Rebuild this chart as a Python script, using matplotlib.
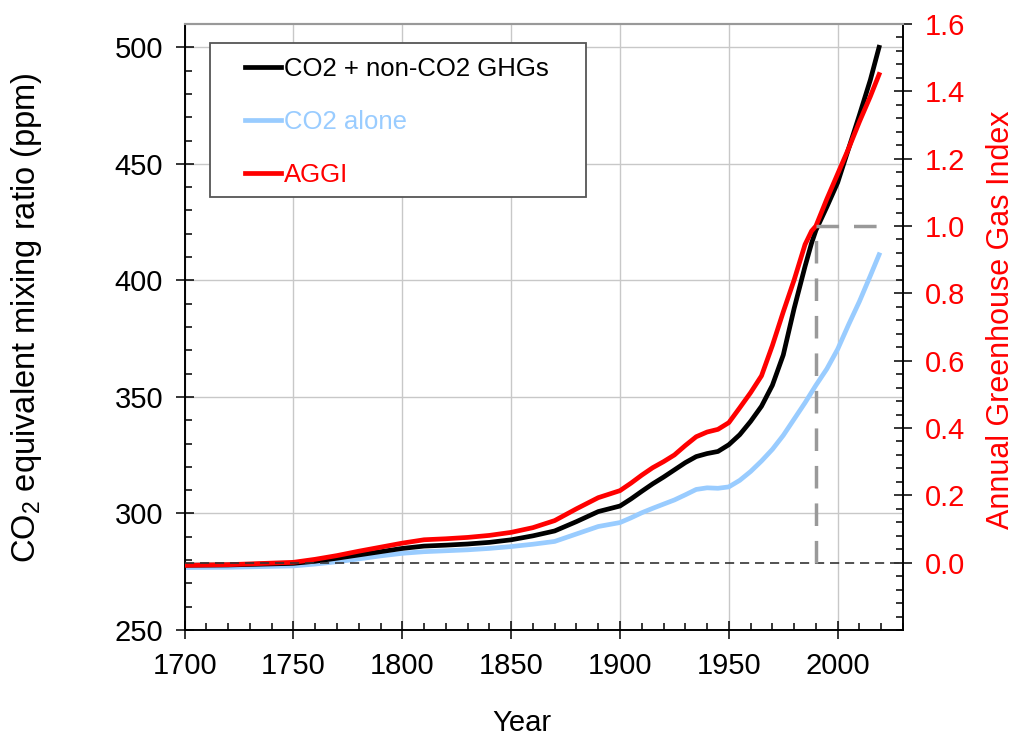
import numpy as np
import matplotlib.pyplot as plt
from matplotlib.patches import Rectangle
from matplotlib.ticker import MultipleLocator, FormatStrFormatter

plt.rcParams['font.family'] = ['Liberation Sans', 'DejaVu Sans']
plt.rcParams['mathtext.fontset'] = 'custom'
plt.rcParams['mathtext.rm'] = 'Liberation Sans'
plt.rcParams['mathtext.default'] = 'rm'

# years sampled along the curves
years = [1700, 1720, 1750, 1760, 1770, 1780, 1790, 1800, 1810, 1820, 1830, 1840,
         1850, 1860, 1870, 1880, 1890, 1900, 1905, 1910, 1915, 1920, 1925, 1930,
         1935, 1940, 1945, 1950, 1955, 1960, 1965, 1970, 1975, 1980, 1985, 1988,
         1990, 1995, 2000, 2005, 2010, 2015, 2019]

# CO2 + non-CO2 GHGs, CO2-equivalent (ppm)
co2eq = [277.8, 277.9, 278.6, 279.5, 280.8, 282.2, 283.6, 285.0, 286.0, 286.4, 286.9, 287.6,
         288.7, 290.4, 292.5, 296.5, 300.8, 303.2, 306.2, 309.5, 312.7, 315.6, 318.7, 321.8,
         324.4, 325.7, 326.6, 329.5, 333.8, 339.5, 346.0, 355.0, 368.0, 388.0, 406.0, 416.0,
         421.5, 431.5, 442.0, 456.5, 471.0, 486.0, 500.0]

# CO2 alone (ppm)
co2 = [276.8, 276.9, 277.5, 278.3, 279.3, 280.5, 281.8, 282.9, 283.6, 284.0, 284.4, 285.0,
       285.8, 286.8, 288.0, 291.2, 294.4, 296.1, 298.1, 300.3, 302.2, 304.0, 305.8, 308.0,
       310.3, 311.0, 310.8, 311.4, 314.2, 318.0, 322.5, 327.5, 333.5, 340.5, 347.5, 352.0,
       355.0, 362.0, 370.5, 381.0, 391.0, 402.0, 411.0]

# Annual Greenhouse Gas Index
aggi = [-0.008, -0.006, 0.001, 0.010, 0.021, 0.034, 0.046, 0.058, 0.068, 0.071, 0.075, 0.081,
        0.090, 0.104, 0.125, 0.160, 0.193, 0.214, 0.236, 0.260, 0.282, 0.300, 0.320, 0.348,
        0.374, 0.388, 0.396, 0.416, 0.460, 0.505, 0.555, 0.645, 0.745, 0.840, 0.945, 0.985,
        1.000, 1.080, 1.155, 1.230, 1.310, 1.385, 1.450]

ref_year = 1990
labels = ['CO2 + non-CO2 GHGs', 'CO2 alone', 'AGGI']
c_black = 'black'
c_blue = '#99ccff'
c_red = '#ff0000'

fig = plt.figure(figsize=(10.16, 7.37), dpi=100)
ax = fig.add_axes([184.6 / 1016, 1 - 630 / 737, (903 - 184.6) / 1016, (630 - 24) / 737])
ax2 = ax.twinx()

ax.set_xlim(1700, 2030)
ax.set_ylim(250, 510)
ax2.set_ylim(-0.2, 1.6)

ax.set_axisbelow(True)
ax.grid(True, color='#c8c8c8', linewidth=1.0)

l1, = ax.plot(years, co2eq, color=c_black, linewidth=3.4, label=labels[0], zorder=3)
l2, = ax.plot(years, co2, color=c_blue, linewidth=3.4, label=labels[1], zorder=2)
l3, = ax2.plot(years, aggi, color=c_red, linewidth=3.4, label=labels[2], zorder=3)

# reference lines
ax2.axhline(0.0, color='#333333', linewidth=1.2, linestyle=(0, (5.5, 3.5)), zorder=4)
ax2.plot([ref_year, ref_year], [0.0, 1.0], color='#999999', linewidth=2.5,
         linestyle=(0, (6.5, 4.3)), zorder=4)
ax2.plot([ref_year, 2020], [1.0, 1.0], color='#999999', linewidth=2.5,
         linestyle=(0, (6.5, 4.3)), zorder=4)

# ticks
ax.xaxis.set_major_locator(MultipleLocator(50))
ax.xaxis.set_minor_locator(MultipleLocator(10))
ax.yaxis.set_major_locator(MultipleLocator(50))
ax.yaxis.set_minor_locator(MultipleLocator(10))
ax2.yaxis.set_minor_locator(MultipleLocator(0.04))
ax2.set_yticks(np.arange(0, 1.61, 0.2))
ax2.yaxis.set_major_formatter(FormatStrFormatter('%.1f'))

ax.tick_params(which='major', direction='inout', length=13, width=1.1, labelsize=21, pad=9)
ax.tick_params(which='minor', direction='in', length=5, width=1.1)
ax.tick_params(axis='x', which='both', top=False)
ax.tick_params(axis='y', which='both', right=False)
ax2.tick_params(which='major', direction='inout', length=13, width=1.1, labelsize=21,
                pad=9, labelcolor=c_red)
ax2.tick_params(which='minor', direction='in', length=5, width=1.1)

for s in ['left', 'bottom', 'right']:
    ax.spines[s].set_linewidth(1.2)
    ax2.spines[s].set_linewidth(1.2)
ax.spines['top'].set_color('#999999')
ax2.spines['top'].set_color('#999999')
ax.spines['top'].set_linewidth(1.5)
ax2.spines['top'].set_linewidth(1.5)

ax.set_xlabel('Year', fontsize=21)
ax.xaxis.set_label_coords((522 - 184.6) / (903 - 184.6), -(723 - 630) / (630 - 24))
ax.set_ylabel(r'CO$_2$ equivalent mixing ratio (ppm)', fontsize=23.5)
ax.yaxis.set_label_coords(-(184.6 - 27) / (903 - 184.6), (630 - 318) / (630 - 24))
ax2.set_ylabel('Annual Greenhouse Gas Index', fontsize=22, color=c_red, rotation=90)
ax2.yaxis.set_label_coords((1001 - 184.6) / (903 - 184.6), (630 - 320) / (630 - 24))
ax2.yaxis.label.set_va('center')
ax.yaxis.label.set_va('center')
ax.xaxis.label.set_va('center')

# legend box
box = Rectangle((210 / 1016, 1 - 197 / 737), (586 - 210) / 1016, (197 - 43) / 737,
                transform=fig.transFigure, facecolor='white', edgecolor='#555555',
                linewidth=1.3, zorder=5, clip_on=False)
ax2.add_patch(box)
leg = ax2.legend(handles=[l1, l2, l3], loc='upper left',
                 bbox_to_anchor=(245 / 1016, 1 - 57 / 737), bbox_transform=fig.transFigure,
                 frameon=False, fontsize=18.5, handlelength=1.4, handletextpad=0.12,
                 labelspacing=1.12, borderpad=0, borderaxespad=0,
                 labelcolor=[c_black, c_blue, c_red])
leg.set_zorder(6)

fig.savefig('out.png', dpi=100)
